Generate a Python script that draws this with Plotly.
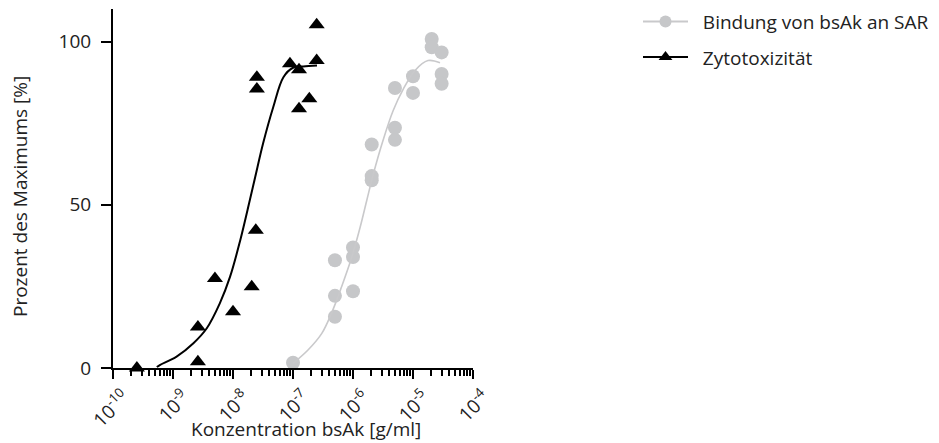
import plotly.graph_objects as go

# ---- data ----
tox_conc = [2.5e-10, 2.6e-9, 2.6e-9, 5e-9, 1e-8, 2.05e-8, 2.4e-8, 2.5e-8, 2.5e-8,
            8.9e-8, 1.26e-7, 1.26e-7, 1.87e-7, 2.48e-7, 2.48e-7]
tox_val = [0, 12.6, 1.9, 27.4, 17.2, 24.9, 42.2, 89.1, 85.5,
           93.2, 91.4, 79.4, 82.5, 105.2, 94.2]

bind_conc = [1e-7, 5e-7, 5e-7, 5e-7, 1e-6, 1e-6, 1e-6, 2.05e-6, 2.05e-6, 2.05e-6,
             5e-6, 5e-6, 5e-6, 1e-5, 1e-5, 2.05e-5, 2.05e-5, 3e-5, 3e-5, 3e-5]
bind_val = [1.6, 15.7, 22.1, 33.0, 23.5, 34.0, 36.9, 57.5, 58.8, 68.5,
            73.6, 69.9, 85.8, 89.4, 84.3, 100.8, 98.3, 96.7, 90.1, 87.1]

# fitted curves
tox_fit_logx = [-9.27, -9.22, -8.94, -8.66, -8.44, -8.22, -8.05, -7.88, -7.72, -7.63,
                -7.50, -7.33, -7.16, -7.00, -6.83, -6.60]
tox_fit_val = [0.3, 0.9, 3.5, 7.6, 12.1, 19.8, 27.9, 39.1, 51.4, 58.5,
               68.7, 79.9, 89.1, 92.0, 92.4, 92.7]

bind_fit_logx = [-7.00, -6.75, -6.52, -6.36, -6.19, -6.02, -5.88, -5.77, -5.66,
                 -5.50, -5.33, -5.16, -4.97, -4.75, -4.55]
bind_fit_val = [1.4, 5.5, 10.6, 16.7, 24.9, 34.0, 43.2, 51.4, 59.5,
                69.7, 78.9, 85.5, 91.1, 94.2, 93.5]

y_ticks = [0, 50, 100]
x_decades = [-10, -9, -8, -7, -6, -5, -4]
x_ticktext = ["10<sup>-10</sup>", "10<sup>-9</sup>", "10<sup>-8</sup>", "10<sup>-7</sup>",
              "10<sup>-6</sup>", "10<sup>-5</sup>", "10<sup>-4</sup>"]
minor_mantissas = [2, 3, 4, 5, 6, 7, 8, 9]

x_tickvals = [10.0 ** d for d in x_decades]
x_minor_vals = [m * 10.0 ** d for d in x_decades[:-1] for m in minor_mantissas]

GRAY = "#c6c7c9"
GRAY_LINE = "#c9c9cb"
FONT = "Open Sans"
TXT = "#222222"
FS = 19
PAD = "\u00a0\u00a0"

# page has an 8px body margin: figure origin sits at (8, 8) in the screenshot
L, T = 105, 1
W_PLOT, H_PLOT = 360, 359

fig = go.Figure()

# grey fit curve drawn on the overlay axis (same log scale) that carries the minor ticks
fig.add_trace(go.Scatter(x=[10 ** v for v in bind_fit_logx], y=bind_fit_val, mode="lines",
                         xaxis="x2", yaxis="y",
                         line=dict(color=GRAY_LINE, width=1.6, shape="spline"),
                         showlegend=False, hoverinfo="skip", cliponaxis=False))
fig.add_trace(go.Scatter(x=[10 ** v for v in tox_fit_logx], y=tox_fit_val, mode="lines",
                         line=dict(color="black", width=2, shape="spline"),
                         showlegend=False, hoverinfo="skip", cliponaxis=False))
fig.add_trace(go.Scatter(x=bind_conc, y=bind_val, mode="markers",
                         marker=dict(symbol="circle", size=14, color=GRAY),
                         showlegend=False, cliponaxis=False))
fig.add_trace(go.Scatter(x=tox_conc, y=tox_val, mode="markers",
                         marker=dict(symbol="triangle-up", size=14, color="black"),
                         showlegend=False, cliponaxis=False))

# legend entries
fig.add_trace(go.Scatter(x=[None], y=[None], mode="lines+markers",
                         name=PAD + "Bindung von bsAk an SAR", legendgroup="a",
                         line=dict(color=GRAY_LINE, width=2),
                         marker=dict(symbol="circle", size=12, color=GRAY)))
fig.add_trace(go.Scatter(x=[None], y=[None], mode="lines+markers",
                         name=PAD + "Zytotoxizität", legendgroup="b",
                         line=dict(color="black", width=2),
                         marker=dict(symbol="triangle-up", size=12, color="black")))

fig.update_layout(
    width=939, height=443,
    margin=dict(l=L, r=939 - L - W_PLOT, t=T, b=443 - T - H_PLOT, autoexpand=False),
    plot_bgcolor="white", paper_bgcolor="white",
    font=dict(family=FONT, size=FS, color=TXT),
    legend=dict(x=(638 - 113) / W_PLOT, y=1.018, xanchor="left", yanchor="top",
                font=dict(size=FS, color=TXT),
                traceorder="grouped", tracegroupgap=8, itemwidth=45,
                bgcolor="rgba(0,0,0,0)"),
    xaxis=dict(type="log", range=[-10, -4], showline=True, linecolor="black",
               linewidth=2, ticks="outside", ticklen=9, tickwidth=2,
               tickcolor="black", tickmode="array", tickvals=x_tickvals,
               ticktext=x_ticktext, ticklabelshift=11,
               tickangle=-45, showgrid=False, zeroline=False, automargin=False,
               tickfont=dict(size=FS, color=TXT)),
    xaxis2=dict(type="log", range=[-10, -4], overlaying="x", anchor="y", side="bottom",
                showline=False, ticks="outside", ticklen=7, tickwidth=2,
                tickcolor="black", tickmode="array", tickvals=x_minor_vals,
                showticklabels=False, showgrid=False, zeroline=False,
                automargin=False),
    yaxis=dict(range=[0, 110], showline=True, linecolor="black", linewidth=2,
               ticks="outside", ticklen=10, tickwidth=2, tickcolor="black",
               tickvals=y_ticks, showgrid=False, zeroline=False, automargin=False,
               ticklabelstandoff=6, tickfont=dict(size=FS, color=TXT)),
    annotations=[
        dict(text="Konzentration bsAk [g/ml]", xref="paper", yref="paper",
             x=(298 - L) / W_PLOT, y=-(421 - (T + H_PLOT)) / H_PLOT, xanchor="center",
             yanchor="middle", showarrow=False,
             font=dict(size=FS, color=TXT)),
        dict(text="Prozent des Maximums [%]", xref="paper", yref="paper",
             x=-(L - 12) / W_PLOT, y=((T + H_PLOT) - 188) / H_PLOT, xanchor="center",
             yanchor="middle", showarrow=False, textangle=-90,
             font=dict(size=FS, color=TXT)),
    ],
)

fig.write_html("out.html")
